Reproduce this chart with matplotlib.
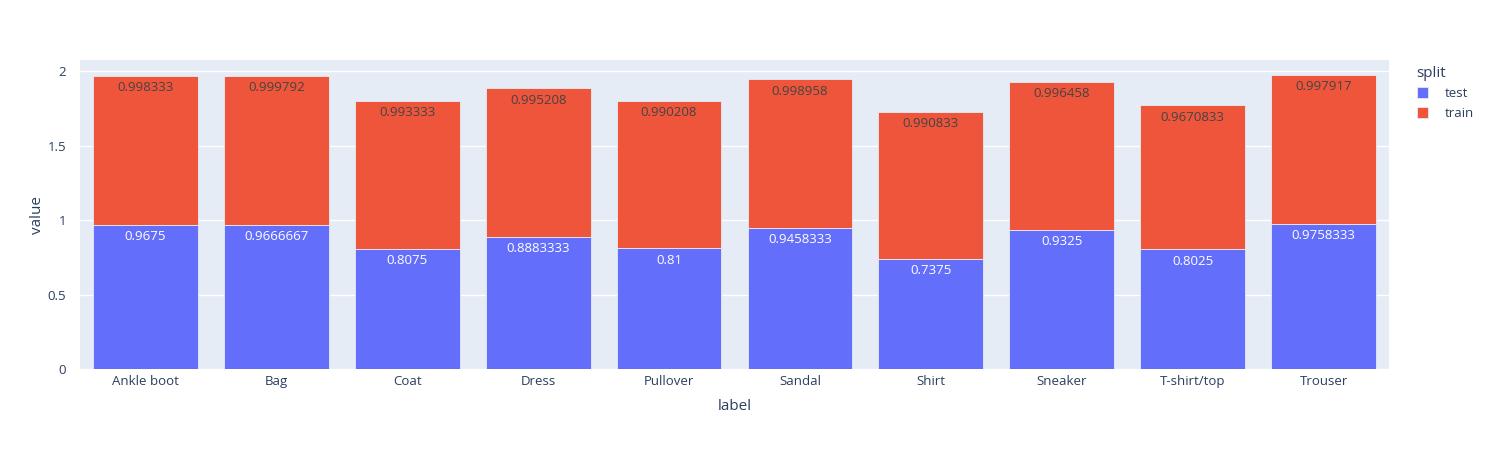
import matplotlib.pyplot as plt
import numpy as np

plt.rcParams["font.family"] = ["Open Sans", "DejaVu Sans"]

# Datos
labels = ["Ankle boot", "Bag", "Coat", "Dress", "Pullover",
          "Sandal", "Shirt", "Sneaker", "T-shirt/top", "Trouser"]
test = [0.9675, 0.9666667, 0.8075, 0.8883333, 0.81,
        0.9458333, 0.7375, 0.9325, 0.8025, 0.9758333]
train = [0.998333, 0.999792, 0.993333, 0.995208, 0.990208,
         0.998958, 0.990833, 0.996458, 0.9670833, 0.997917]

fig = plt.figure(figsize=(15, 4.5), dpi=100)
ax = fig.add_axes([80 / 1500, 81 / 450, 1309 / 1500, 309 / 450])
ax.set_facecolor("#E5ECF6")

x = np.arange(len(labels))
ax.bar(x, test, width=0.8, color="#636EFA", edgecolor="#E5ECF6",
       linewidth=0.6, label="test", zorder=3)
ax.bar(x, train, width=0.8, bottom=test, color="#EF553B",
       edgecolor="#E5ECF6", linewidth=0.6, label="train", zorder=3)

# Etiquetas dentro de las barras
for xi, t, tr in zip(x, test, train):
    ax.annotate(str(t), (xi, t), xytext=(0, -8.5), textcoords="offset points",
                ha="center", va="center", color="white", fontsize=9.5, zorder=4)
    ax.annotate(str(tr), (xi, t + tr), xytext=(0, -8.5), textcoords="offset points",
                ha="center", va="center", color="#444444", fontsize=9.5, zorder=4)

ax.set_xlim(-0.5, len(labels) - 0.5)
ax.set_ylim(0, 2.074)
ax.set_yticks([0, 0.5, 1, 1.5, 2])
ax.set_yticklabels(["0", "0.5", "1", "1.5", "2"])
ax.set_xticks(x)
ax.set_xticklabels(labels)
ax.grid(True, axis="y", color="white", linewidth=1, zorder=0)
ax.tick_params(axis="both", length=0, labelsize=9.5, labelcolor="#2a3f5f")
ax.tick_params(axis="x", pad=4)
ax.tick_params(axis="y", pad=10)
for s in ax.spines.values():
    s.set_visible(False)

ax.set_xlabel("label", fontsize=11, color="#2a3f5f", labelpad=8)
ax.set_ylabel("value", fontsize=11, color="#2a3f5f", labelpad=2)

leg = ax.legend(title="split", loc="upper left", bbox_to_anchor=(1.012, 1.02),
                frameon=False, fontsize=9.5, title_fontsize=11,
                handlelength=0.9, handleheight=0.9, handletextpad=1.2,
                labelcolor="#2a3f5f")
leg.get_title().set_color("#2a3f5f")
leg._legend_box.align = "left"

fig.savefig("out.png", dpi=100)
